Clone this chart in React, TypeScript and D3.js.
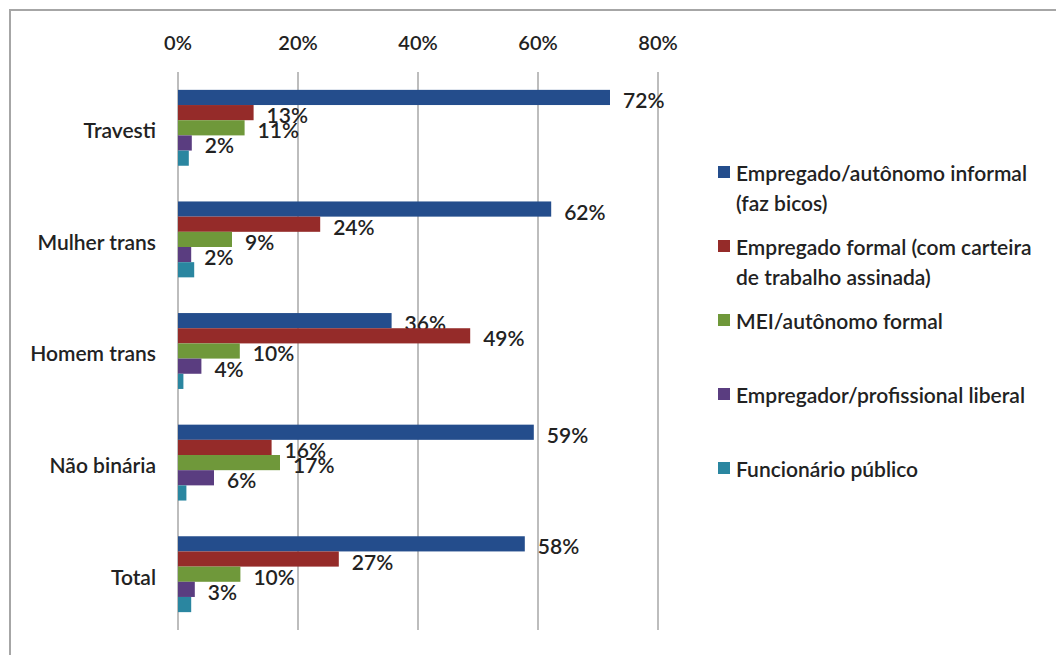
import React from "react";
import * as d3 from "d3";

const categories = ["Travesti", "Mulher trans", "Homem trans", "Não binária", "Total"];
const seriesNames = [
  "Empregado/autônomo informal (faz bicos)",
  "Empregado formal (com carteira de trabalho assinada)",
  "MEI/autônomo formal",
  "Empregador/profissional liberal",
  "Funcionário público",
];
const legendLines = [
  ["Empregado/autônomo informal", "(faz bicos)"],
  ["Empregado formal (com carteira", "de trabalho assinada)"],
  ["MEI/autônomo formal"],
  ["Empregador/profissional liberal"],
  ["Funcionário público"],
];
const informal = [72, 62.2, 35.6, 59.3, 57.8];
const formal = [12.6, 23.7, 48.7, 15.6, 26.8];
const mei = [11.1, 9.0, 10.3, 17.0, 10.4];
const empregador = [2.3, 2.2, 3.9, 6.0, 2.8];
const funcionario = [1.8, 2.7, 0.9, 1.4, 2.2];
const seriesValues = [informal, formal, mei, empregador, funcionario];
const labelledSeries = [true, true, true, true, false];
const colors = ["#244D8C", "#952B29", "#6F983A", "#5A3D80", "#2A86A0"];
const ticks = [0, 20, 40, 60, 80];

const W = 1056;
const H = 655;
const FONT = "Lato, 'Open Sans', sans-serif";
const TXT = "#222222";

export default function App() {
  const x = d3.scaleLinear().domain([0, 80]).range([178, 658]);
  const y0 = d3
    .scaleBand<string>()
    .domain(categories)
    .range([72, 630])
    .paddingInner(0.32)
    .paddingOuter(0.16);
  const y1 = d3
    .scaleBand<string>()
    .domain(seriesNames)
    .range([0, y0.bandwidth()]);
  const [gTop, gBottom] = [72, 630];

  return (
    <svg
      width={W}
      height={H}
      style={{ position: "absolute", left: 0, top: 0, background: "#fff" }}
      fontFamily={FONT}
      fontWeight={600}
    >
      <rect x={0} y={0} width={W} height={H} fill="#fff" />
      <rect x={10} y={10} width={W + 20} height={H + 20} fill="none" stroke="#a6a6a6" strokeWidth={2} />
      {ticks.map((t) => (
        <g key={t}>
          <line x1={x(t)} x2={x(t)} y1={gTop} y2={gBottom} stroke="#bdbdbd" strokeWidth={2} />
          <text x={x(t)} y={42} textAnchor="middle" dominantBaseline="central" fontSize={20} fill={TXT}>
            {t}%
          </text>
        </g>
      ))}
      {categories.map((c, ci) => (
        <g key={c} transform={`translate(0,${y0(c)})`}>
          <text
            x={156}
            y={y0.bandwidth() / 2 + 2}
            textAnchor="end"
            dominantBaseline="central"
            fontSize={21}
            fill={TXT}
          >
            {c}
          </text>
          {seriesNames.map((s, si) => {
            const v = seriesValues[si][ci];
            const yy = y1(s)!;
            return (
              <g key={s}>
                <rect
                  x={x(0)}
                  y={yy}
                  width={x(v) - x(0)}
                  height={y1.bandwidth()}
                  fill={colors[si]}
                />
                {labelledSeries[si] && (
                  <text
                    x={x(v) + 13}
                    y={yy + y1.bandwidth() / 2 + 2}
                    dominantBaseline="central"
                    fontSize={21}
                    fill={TXT}
                  >
                    {Math.round(v)}%
                  </text>
                )}
              </g>
            );
          })}
        </g>
      ))}
      {legendLines.map((lines, i) => {
        const ly = 172 + i * 74;
        return (
          <g key={i}>
            <rect x={718} y={ly - 6} width={12} height={12} fill={colors[i]} />
            {lines.map((ln, li) => (
              <text
                key={li}
                x={736}
                y={ly + li * 30}
                dominantBaseline="central"
                fontSize={21}
                fill={TXT}
              >
                {ln}
              </text>
            ))}
          </g>
        );
      })}
    </svg>
  );
}
